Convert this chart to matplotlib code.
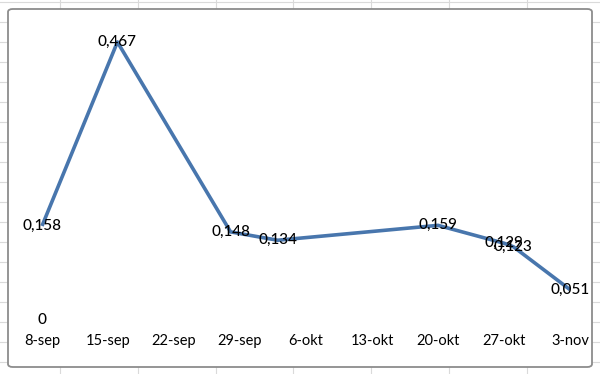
import matplotlib
matplotlib.use("Agg")
import matplotlib.pyplot as plt
import matplotlib.dates as mdates
from matplotlib.patches import FancyBboxPatch
from matplotlib.lines import Line2D
import pandas as pd

# data
dates = ['2014-09-08', '2014-09-16', '2014-09-28', '2014-10-03',
         '2014-10-20', '2014-10-27', '2014-10-28', '2014-11-03']
values = [0.158, 0.467, 0.148, 0.134, 0.159, 0.129, 0.123, 0.051]
# lone point with only a label, not joined to the line
extra_dates = ['2014-09-08']
extra_values = [0]

tick_dates = ['2014-09-08', '2014-09-15', '2014-09-22', '2014-09-29', '2014-10-06',
              '2014-10-13', '2014-10-20', '2014-10-27', '2014-11-03']
tick_labels = ['8-sep', '15-sep', '22-sep', '29-sep', '6-okt',
               '13-okt', '20-okt', '27-okt', '3-nov']

W, H = 600, 374
fig = plt.figure(figsize=(W / 100, H / 100), dpi=100)
fig.patch.set_facecolor('white')

def fx(px):
    return px / W

def fy(py):
    return 1 - py / H

# spreadsheet cells behind the chart
for x in [60 + 77.8 * k for k in range(8)]:
    fig.add_artist(Line2D([fx(x), fx(x)], [0, 1], color='#dadada', lw=0.8, zorder=-3))
for y in [2 + 20 * k for k in range(19)]:
    fig.add_artist(Line2D([0, 1], [fy(y), fy(y)], color='#dadada', lw=0.8, zorder=-3))

# chart area
frame = FancyBboxPatch((fx(8), fy(367)), fx(592) - fx(8), fy(9) - fy(367),
                       boxstyle='round,pad=0,rounding_size=0.008',
                       transform=fig.transFigure, facecolor='white',
                       edgecolor='#8c8c8c', lw=1.3, zorder=-1)
fig.add_artist(frame)

ax = fig.add_axes([0, 44 / H, 1, 1 - 44 / H])
ax.patch.set_visible(False)
for s in ax.spines.values():
    s.set_visible(False)

d = pd.to_datetime(dates)
ed = pd.to_datetime(extra_dates)
td = pd.to_datetime(tick_dates)

ax.plot(d, values, color='#4876ad', lw=2.6, solid_capstyle='butt')

for x, v in zip(list(d) + list(ed), values + extra_values):
    s = ('%.3f' % v).replace('.', ',') if v != 0 else '0'
    ax.text(x, v, s, ha='center', va='center', fontsize=11,
            family='Lato', fontweight='medium', color='black', zorder=5)

# pixel mapping: 8-sep at x=42, 3-nov at x=570; value 0 at y=320, 0.467 at y=42
start = mdates.date2num(pd.Timestamp('2014-09-08'))
ppd = (570 - 42) / 56
ax.set_xlim(start - 42 / ppd, start + (W - 42) / ppd)
ppu = (320 - 42) / 0.467
ax.set_ylim((320 - 330) / ppu, 320 / ppu)

ax.set_xticks(td)
ax.set_xticklabels(tick_labels, fontsize=10.5, family='Lato')
ax.tick_params(axis='x', length=0, pad=3)
ax.set_yticks([])

fig.savefig('out.png', dpi=100)
